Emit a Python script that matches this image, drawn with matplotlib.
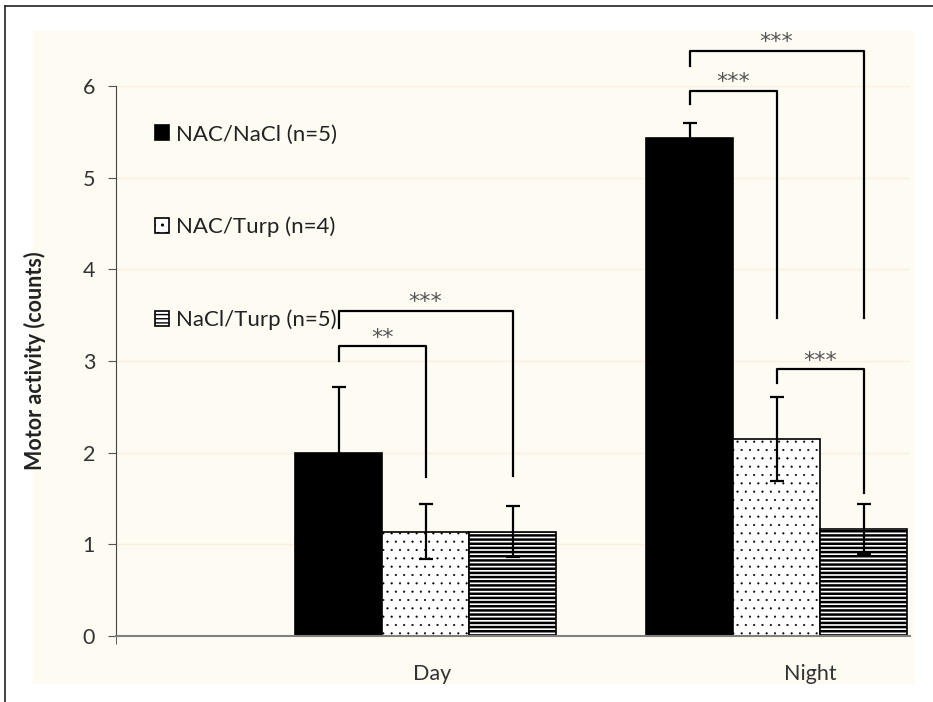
import numpy as np
import matplotlib
matplotlib.use("Agg")
import matplotlib.pyplot as plt
from matplotlib.patches import Rectangle
from matplotlib.lines import Line2D

plt.rcParams['font.family'] = ['Lato', 'DejaVu Sans']
plt.rcParams['hatch.linewidth'] = 1.0

#data
periods = ["Day", "Night"]
groups = ["NAC/NaCl (n=5)", "NAC/Turp (n=4)", "NaCl/Turp (n=5)"]
means = {"NAC/NaCl (n=5)": [2.00, 5.43],
         "NAC/Turp (n=4)": [1.14, 2.15],
         "NaCl/Turp (n=5)": [1.14, 1.17]}
sems = {"NAC/NaCl (n=5)": [0.72, 0.17],
        "NAC/Turp (n=4)": [0.30, 0.46],
        "NaCl/Turp (n=5)": [0.28, 0.27]}

#significance brackets: (period, group a, group b, top, left end, right end, stars)
brackets = [(0, 0, 1, 3.16, 3.00, 1.74, "**"),
            (0, 0, 2, 3.55, 3.36, 1.75, "***"),
            (1, 0, 1, 5.95, 5.80, 3.47, "***"),
            (1, 0, 2, 6.38, 6.22, 3.47, "***"),
            (1, 1, 2, 2.91, 2.76, 1.56, "***")]

#styles
faces = ["black", "white", "white"]
hatches = [None, "..", "----"]
hatch_lw = [1.0, 0.3, 1.8]

#==============================================================================
fig = plt.figure(figsize=(9.33, 7.02), dpi=100)

#beige chart area and the frame that is left of the border
fig.patches.append(Rectangle((33/933, 1-683/702), 880/933, 652/702,
                             transform=fig.transFigure, color="#fefbf3",
                             zorder=-10))
fig.lines.append(Line2D([5/933, 5/933], [0, 1-6/702], transform=fig.transFigure,
                        color="#222222", lw=1.2))
fig.lines.append(Line2D([5/933, 1], [1-6/702, 1-6/702], transform=fig.transFigure,
                        color="#222222", lw=1.2))

ax = fig.add_axes([116/933, 1-636/702, 794/933, 550/702])
ax.set_facecolor("none")

centers = np.arange(1, len(periods)+1)
width = 0.248
bars = []
for i, g in enumerate(groups):
    x = centers + (i-1)*width
    b = ax.bar(x, means[g], width, color=faces[i], edgecolor="black",
               hatch=hatches[i], linewidth=1.2, label=g, zorder=2)
    for p in b.patches:
        if hasattr(p, "set_hatch_linewidth"):
            p.set_hatch_linewidth(hatch_lw[i])
    bars.append(b)
    ax.errorbar(x, means[g], yerr=sems[g], fmt="none", ecolor="black",
                elinewidth=1.6, capsize=5, capthick=1.6, zorder=3)

#brackets
for p, a, b, top, yl, yr, stars in brackets:
    xa = centers[p] + (a-1)*width
    xb = centers[p] + (b-1)*width
    ax.plot([xa, xa, xb, xb], [yl, top, top, yr], color="black", lw=1.6,
            clip_on=False, zorder=4)
    ax.text((xa+xb)/2, top+0.03, stars, ha="center", va="baseline",
            fontsize=16, color="#555555", family="DejaVu Sans")

ax.set_ylim(0, 6)
ax.set_xlim(0.118, 2.38)
ax.set_yticks(range(0, 7))
ax.yaxis.grid(True, color="#fbf0db", lw=1)
ax.set_axisbelow(True)
ax.tick_params(axis="y", length=6, color="#555555", labelsize=15.5,
               labelcolor="#333333", pad=9)
ax.set_xticks(centers + np.array([0.02, 0.095]))
ax.set_xticklabels(periods, fontsize=15.5, color="#333333")
ax.tick_params(axis="x", length=0, pad=20)
ax.set_xticks([0.118], minor=True)
ax.tick_params(axis="x", which="minor", length=6, color="#444444")

for s in ["top", "right"]:
    ax.spines[s].set_visible(False)
ax.spines["left"].set_color("#444444")
ax.spines["bottom"].set_color("#808080")
ax.spines["bottom"].set_linewidth(1.5)

ax.set_ylabel("Motor activity (counts)", fontsize=15.5, fontweight="bold",
              color="#222222")
ax.yaxis.set_label_coords(-0.088, 0.5)

ax.legend(handles=bars, loc="upper left", bbox_to_anchor=(0.049, 0.93),
          frameon=False, fontsize=16, handlelength=0.65, handleheight=0.65,
          handletextpad=0.3, labelspacing=3.25, borderpad=0, borderaxespad=0,
          labelcolor="#222222")

fig.savefig("out.png", dpi=100)
